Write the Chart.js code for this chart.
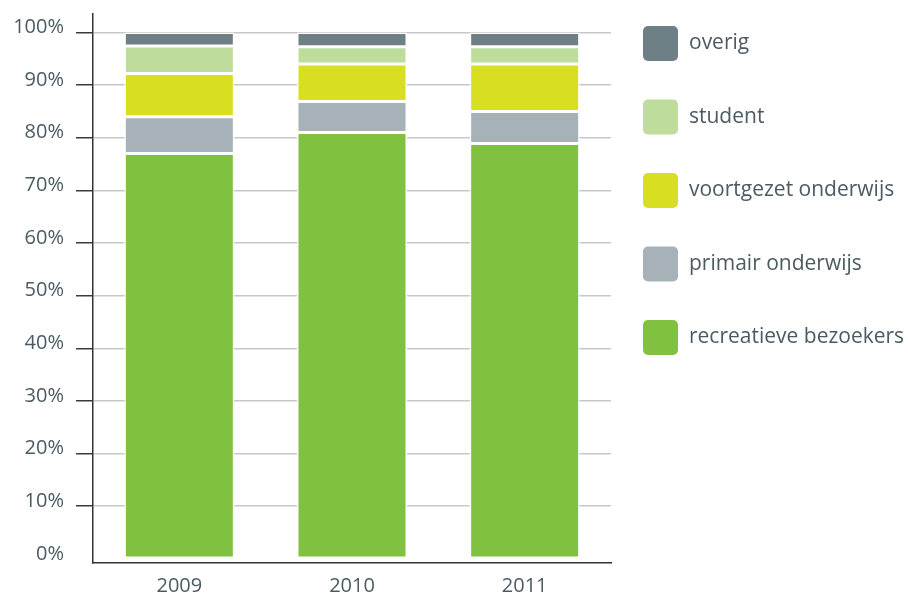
<!DOCTYPE html>
<html>
<head>
<meta charset="utf-8">
<script src="https://cdn.jsdelivr.net/npm/chart.js@4"></script>
<style>
  body { margin: 0; background: #fff; }
  canvas { display: block; }
</style>
</head>
<body>
<canvas id="graph1" width="908" height="598"></canvas>
<script>
const years = ["2009", "2010", "2011"];
const seriesNames = ["recreatieve bezoekers", "primair onderwijs", "voortgezet onderwijs", "student", "overig"];
const recreatief = [77.0, 81.0, 78.9];
const primair = [7.0, 5.9, 6.1];
const voortgezet = [8.2, 7.1, 9.0];
const student = [5.2, 3.3, 3.3];
const overig = [2.6, 2.7, 2.7];
const colors = ["#80c142", "#a6b1b8", "#d8df20", "#bedc9b", "#6f7f86"];
const yTicks = [0, 10, 20, 30, 40, 50, 60, 70, 80, 90, 100];

const textColor = "#4b5a63";
const font = { family: "'Open Sans', sans-serif", size: 20 };

// legend drawn by hand, right side, reversed order
const sideLegend = {
  id: "sideLegend",
  afterDraw(chart) {
    const c = chart.ctx;
    const sets = chart.data.datasets.slice().reverse();
    c.save();
    c.font = "21px 'Open Sans', sans-serif";
    c.textBaseline = "middle";
    sets.forEach(function(ds, i) {
      const cy = 43.5 + i * 73.5;
      c.fillStyle = ds.backgroundColor;
      c.beginPath();
      c.roundRect(643, cy - 17.5, 35, 35, 5);
      c.fill();
      c.fillStyle = textColor;
      c.fillText(ds.label, 689, cy);
    });
    c.restore();
  }
};

const series = [recreatief, primair, voortgezet, student, overig];

const ctx = document.getElementById("graph1");
new Chart(ctx, {
  type: "bar",
  data: {
    labels: years,
    datasets: series.map(function(vals, i) {
      return {
        label: seriesNames[i],
        data: vals,
        backgroundColor: colors[i],
        borderColor: "#ffffff",
        borderWidth: 1.5,
        borderSkipped: false,
        barPercentage: 0.637,
        categoryPercentage: 1
      };
    })
  },
  options: {
    responsive: false,
    animation: false,
    layout: { padding: { left: 0, top: 14, right: 297, bottom: 0 } },
    plugins: {
      legend: { display: false },
      tooltip: { enabled: false }
    },
    scales: {
      x: {
        stacked: true,
        grid: { display: false },
        border: { color: "#333333", width: 1.5 },
        ticks: { color: textColor, font: font, padding: 4 },
        afterFit: function(scale) { scale.height = 35.3; }
      },
      y: {
        stacked: true,
        min: -0.74,
        max: 103.5,
        afterBuildTicks: function(scale) {
          scale.ticks = yTicks.map(function(v) { return { value: v }; });
        },
        grid: {
          color: function(c) { return c.tick && c.tick.value === 0 ? "rgba(0,0,0,0)" : "#c8c8c8"; },
          tickColor: function(c) { return c.tick && c.tick.value === 0 ? "rgba(0,0,0,0)" : "#3a3a3a"; },
          lineWidth: 1.5,
          tickWidth: 1.5,
          tickLength: 17
        },
        border: { color: "#333333", width: 1.5 },
        ticks: {
          color: textColor,
          font: font,
          padding: 12,
          labelOffset: -5,
          callback: function(v) { return v + "%"; }
        },
        afterFit: function(scale) {
          scale.width = 93;
          scale.paddingTop = 0;
          scale.paddingBottom = 0;
        }
      }
    }
  },
  plugins: [sideLegend]
});
</script>
</body>
</html>
